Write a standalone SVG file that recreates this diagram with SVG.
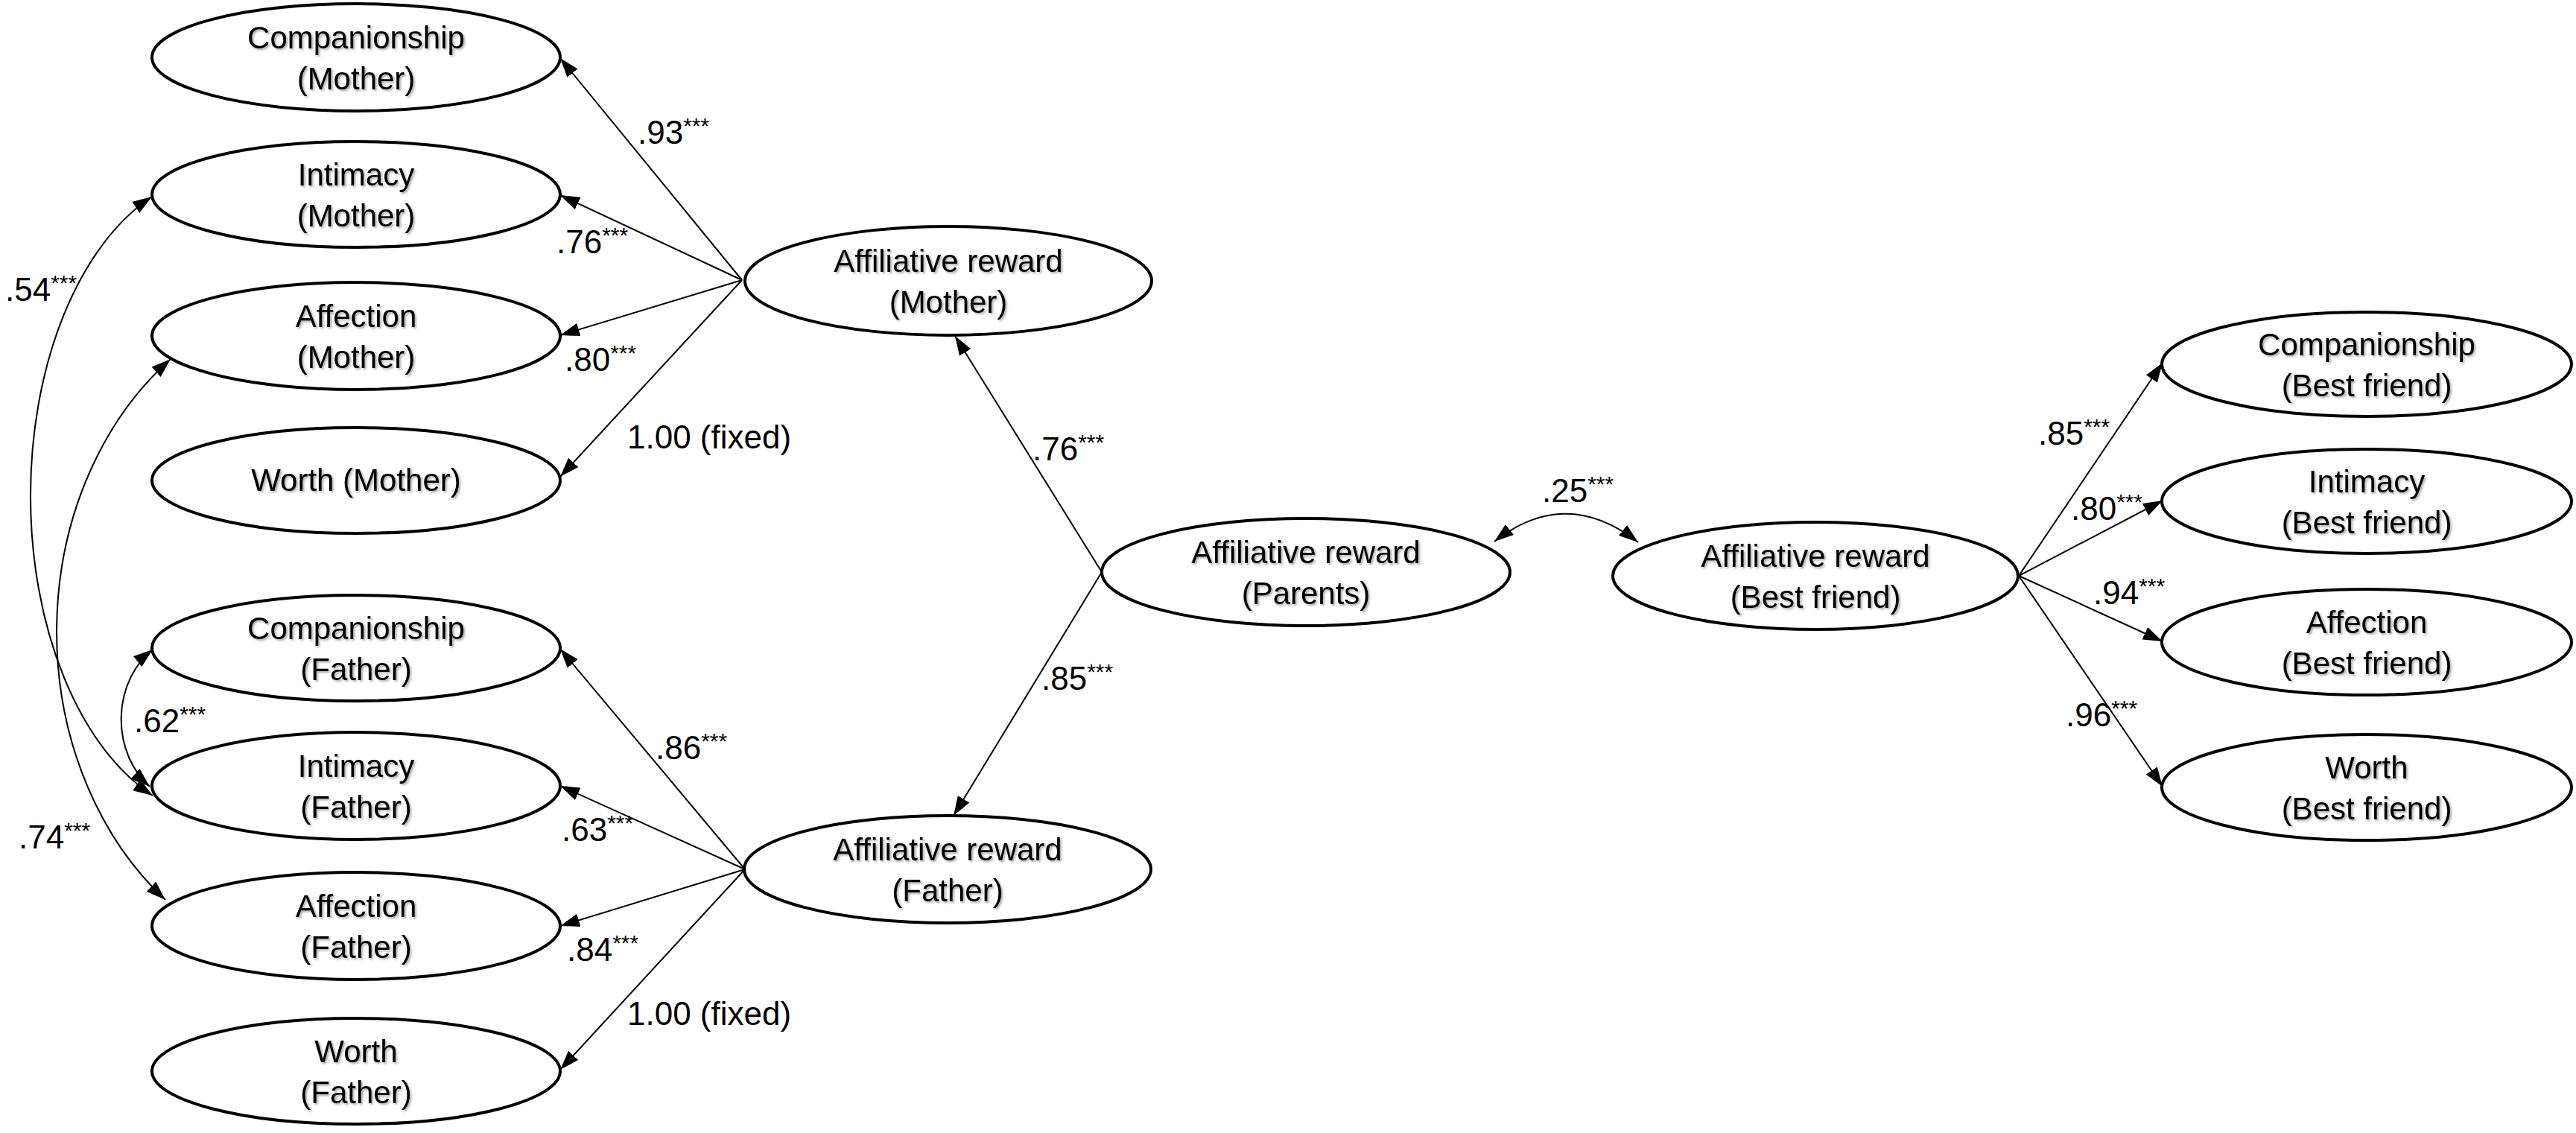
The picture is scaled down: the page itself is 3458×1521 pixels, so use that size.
<svg xmlns="http://www.w3.org/2000/svg" width="3458" height="1521" viewBox="0 0 3458 1521">
<style>
.node ellipse{fill:#fff;stroke:#000;stroke-width:4}
.node text{font-family:"Liberation Sans",Arial,sans-serif;font-size:42px;text-anchor:middle;fill:#000;filter:url(#sh)}
.conn path,.conn line{fill:none;stroke:#000;stroke-width:2}
.arrow{marker-end:url(#ah)}
.both{marker-start:url(#ah);marker-end:url(#ah)}
.lbl{font-family:"Liberation Sans",Arial,sans-serif;font-size:44px;fill:#000}
.sup{font-size:30px}
</style>
<defs>
<filter id="sh" x="-10%" y="-20%" width="130%" height="150%">
<feDropShadow dx="2" dy="2" stdDeviation="1.5" flood-color="#000" flood-opacity="0.35"/>
</filter>
<marker id="ah" markerUnits="userSpaceOnUse" viewBox="0 0 26 18" markerWidth="26" markerHeight="18" refX="26" refY="9" orient="auto-start-reverse">
<path d="M0,0 L26,9 L0,18 z" fill="#000"/>
</marker>
</defs>
<rect width="3458" height="1521" fill="#fff"/>

<g id="connectors" class="conn">
<line class="arrow" x1="996" y1="376" x2="752" y2="78"/>
<line class="arrow" x1="996" y1="376" x2="752" y2="262"/>
<line class="arrow" x1="996" y1="376" x2="752" y2="450"/>
<line class="arrow" x1="996" y1="376" x2="752" y2="640"/>
<line class="arrow" x1="1000" y1="1167" x2="752" y2="871"/>
<line class="arrow" x1="1000" y1="1167" x2="752" y2="1055"/>
<line class="arrow" x1="1000" y1="1167" x2="752" y2="1243"/>
<line class="arrow" x1="1000" y1="1167" x2="752" y2="1436"/>
<line class="arrow" x1="1479" y1="768" x2="1282" y2="451"/>
<line class="arrow" x1="1479" y1="768" x2="1280" y2="1095"/>
<line class="arrow" x1="2710" y1="773" x2="2903" y2="487"/>
<line class="arrow" x1="2710" y1="773" x2="2903" y2="672"/>
<line class="arrow" x1="2710" y1="773" x2="2903" y2="861"/>
<line class="arrow" x1="2710" y1="773" x2="2903" y2="1056"/>
<path class="both" d="M204,264 A258,432 0 0 0 205,1068"/>
<path class="both" d="M229,482 A374,454 0 0 0 222,1208"/>
<path class="both" d="M205,872 A96,113 0 0 0 201,1056"/>
<path class="both" d="M2006,727 Q2102,652 2199,728"/>
</g>

<g id="labels">
<text class="lbl" x="856" y="193">.93<tspan class="sup" dy="-14">***</tspan></text>
<text class="lbl" x="747" y="340">.76<tspan class="sup" dy="-14">***</tspan></text>
<text class="lbl" x="758" y="498">.80<tspan class="sup" dy="-14">***</tspan></text>
<text class="lbl" x="842" y="602">1.00 (fixed)</text>
<text class="lbl" x="7" y="404">.54<tspan class="sup" dy="-14">***</tspan></text>
<text class="lbl" x="880" y="1019">.86<tspan class="sup" dy="-14">***</tspan></text>
<text class="lbl" x="754" y="1129">.63<tspan class="sup" dy="-14">***</tspan></text>
<text class="lbl" x="761" y="1290">.84<tspan class="sup" dy="-14">***</tspan></text>
<text class="lbl" x="842" y="1376">1.00 (fixed)</text>
<text class="lbl" x="180" y="983">.62<tspan class="sup" dy="-14">***</tspan></text>
<text class="lbl" x="25" y="1139">.74<tspan class="sup" dy="-14">***</tspan></text>
<text class="lbl" x="1386" y="618">.76<tspan class="sup" dy="-14">***</tspan></text>
<text class="lbl" x="1398" y="926">.85<tspan class="sup" dy="-14">***</tspan></text>
<text class="lbl" x="2070" y="674">.25<tspan class="sup" dy="-14">***</tspan></text>
<text class="lbl" x="2736" y="597">.85<tspan class="sup" dy="-14">***</tspan></text>
<text class="lbl" x="2780" y="698">.80<tspan class="sup" dy="-14">***</tspan></text>
<text class="lbl" x="2810" y="811">.94<tspan class="sup" dy="-14">***</tspan></text>
<text class="lbl" x="2773" y="975">.96<tspan class="sup" dy="-14">***</tspan></text>
</g>

<g id="companionship-mother" class="node"><ellipse cx="478" cy="77" rx="274" ry="72"/><text x="478" y="65">Companionship</text><text x="478" y="120">(Mother)</text></g>
<g id="intimacy-mother" class="node"><ellipse cx="478" cy="261" rx="274" ry="71"/><text x="478" y="249">Intimacy</text><text x="478" y="304">(Mother)</text></g>
<g id="affection-mother" class="node"><ellipse cx="478" cy="451" rx="274" ry="72"/><text x="478" y="439">Affection</text><text x="478" y="494">(Mother)</text></g>
<g id="worth-mother" class="node"><ellipse cx="478" cy="645" rx="274" ry="71"/><text x="478" y="659">Worth (Mother)</text></g>

<g id="companionship-father" class="node"><ellipse cx="478" cy="870" rx="274" ry="71"/><text x="478" y="858">Companionship</text><text x="478" y="913">(Father)</text></g>
<g id="intimacy-father" class="node"><ellipse cx="478" cy="1055" rx="274" ry="72"/><text x="478" y="1043">Intimacy</text><text x="478" y="1098">(Father)</text></g>
<g id="affection-father" class="node"><ellipse cx="478" cy="1243" rx="274" ry="72"/><text x="478" y="1231">Affection</text><text x="478" y="1286">(Father)</text></g>
<g id="worth-father" class="node"><ellipse cx="478" cy="1438" rx="274" ry="71"/><text x="478" y="1426">Worth</text><text x="478" y="1481">(Father)</text></g>

<g id="reward-mother" class="node"><ellipse cx="1273" cy="377" rx="273" ry="73"/><text x="1273" y="365">Affiliative reward</text><text x="1273" y="420">(Mother)</text></g>
<g id="reward-father" class="node"><ellipse cx="1272" cy="1167" rx="273" ry="72"/><text x="1272" y="1155">Affiliative reward</text><text x="1272" y="1210">(Father)</text></g>
<g id="reward-parents" class="node"><ellipse cx="1753" cy="768" rx="274" ry="72"/><text x="1753" y="756">Affiliative reward</text><text x="1753" y="811">(Parents)</text></g>
<g id="reward-bestfriend" class="node"><ellipse cx="2437" cy="773" rx="272" ry="72"/><text x="2437" y="761">Affiliative reward</text><text x="2437" y="816">(Best friend)</text></g>

<g id="companionship-bestfriend" class="node"><ellipse cx="3177" cy="489" rx="275" ry="70"/><text x="3177" y="477">Companionship</text><text x="3177" y="532">(Best friend)</text></g>
<g id="intimacy-bestfriend" class="node"><ellipse cx="3177" cy="673" rx="275" ry="70"/><text x="3177" y="661">Intimacy</text><text x="3177" y="716">(Best friend)</text></g>
<g id="affection-bestfriend" class="node"><ellipse cx="3177" cy="862" rx="275" ry="71"/><text x="3177" y="850">Affection</text><text x="3177" y="905">(Best friend)</text></g>
<g id="worth-bestfriend" class="node"><ellipse cx="3177" cy="1057" rx="275" ry="71"/><text x="3177" y="1045">Worth</text><text x="3177" y="1100">(Best friend)</text></g>
</svg>
